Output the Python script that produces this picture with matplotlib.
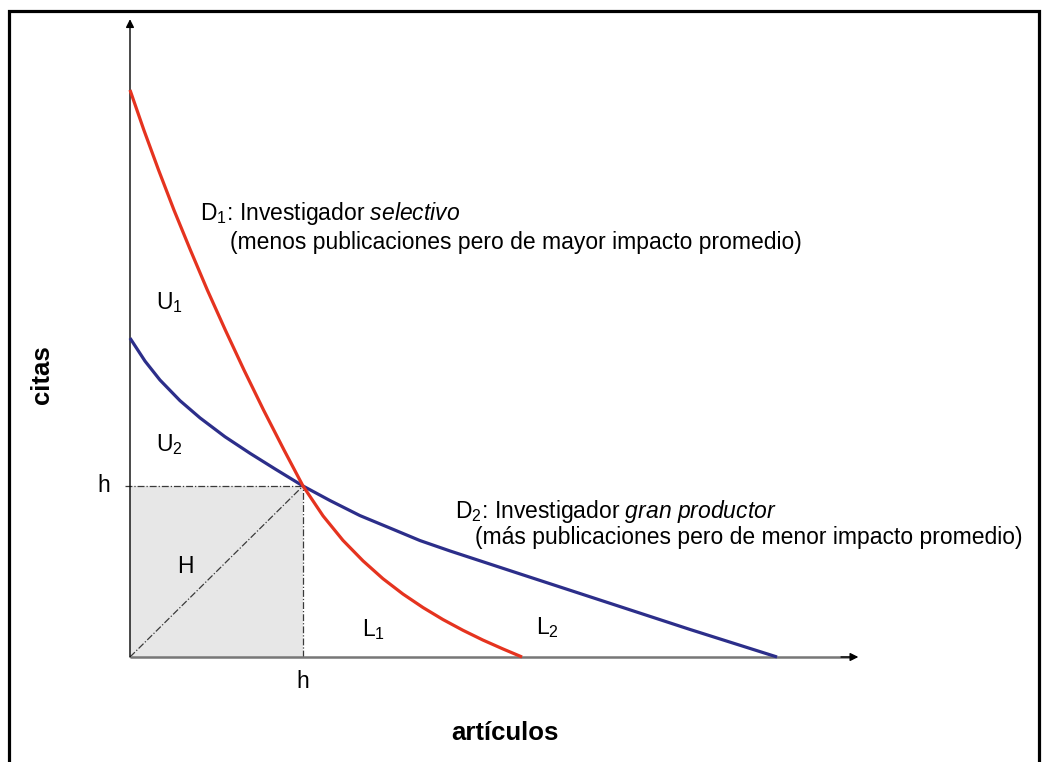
import matplotlib
matplotlib.use('Agg')
import matplotlib.pyplot as plt
from matplotlib.lines import Line2D

plt.rcParams['font.family'] = ['Liberation Sans', 'DejaVu Sans']
plt.rcParams['mathtext.fontset'] = 'custom'
plt.rcParams['mathtext.rm'] = 'Liberation Sans'
plt.rcParams['mathtext.it'] = 'Liberation Sans:italic'
plt.rcParams['mathtext.bf'] = 'Liberation Sans:bold'

# ---- data (units: h-index = 10) ----
h_index = 10.0
red_x = [0.0, 0.80, 1.65, 2.54, 3.49, 4.47, 5.51, 6.59, 7.72, 8.90, 10.0,
         11.16, 12.31, 13.47, 14.62, 15.78, 16.94, 18.09, 19.25, 20.40, 21.56, 22.66]
red_y = [33.16, 30.82, 28.48, 26.14, 23.80, 21.46, 19.12, 16.78, 14.44, 12.11, 10.0,
         8.25, 6.82, 5.62, 4.58, 3.68, 2.89, 2.19, 1.56, 0.99, 0.47, 0.0]
blue_x = [0.0, 0.87, 1.73, 2.89, 4.05, 5.49, 6.94, 8.38, 10.0,
          11.56, 13.29, 15.03, 16.76, 18.50, 22.54, 27.17, 32.37, 37.40]
blue_y = [18.65, 17.30, 16.20, 14.99, 13.98, 12.88, 11.91, 11.00, 10.0,
          9.15, 8.27, 7.54, 6.81, 6.20, 4.86, 3.33, 1.61, 0.0]
x_axis_end = 42.1
y_axis_end = 37.3

RED = '#e5331f'
BLUE = '#2c2e8a'
FS = 16.5
FSB = 18.5

fig = plt.figure(figsize=(10.44, 7.62), dpi=100)
ax = fig.add_axes([0, 0, 1, 1])
ax.set_xlim(-7.514, 52.83)
ax.set_ylim(-6.14, 38.42)
ax.axis('off')

# outer frame (open at the bottom)
l, r, t = 8.5 / 1044, 1038.5 / 1044, 1 - 11 / 762
fig.add_artist(Line2D([l, l, r, r], [-0.01, t, t, -0.01], transform=fig.transFigure,
                      color='black', lw=2.3, solid_joinstyle='miter'))

# shaded H square
ax.fill_between([0, h_index], [h_index, h_index], 0, color='#e7e7e7', lw=0, zorder=1)

# dash-dot guides
dd = dict(color='#3a3a3a', lw=0.9, ls=(0, (5.5, 1.6, 1.0, 1.6)), zorder=2)
ax.plot([-0.3, h_index], [h_index, h_index], **dd)
ax.plot([h_index, h_index], [0, h_index], **dd)
ax.plot([0, h_index], [0, h_index], **dd)

# axes with arrows
ax.plot([0, x_axis_end - 0.5], [0, 0], color='#777777', lw=1.8, zorder=3, solid_capstyle='butt')
ax.annotate('', xy=(x_axis_end, 0), xytext=(x_axis_end - 1.0, 0),
            arrowprops=dict(arrowstyle='-|>', color='black', lw=1.0, mutation_scale=12,
                            shrinkA=0, shrinkB=0), zorder=4)
ax.annotate('', xy=(0, y_axis_end), xytext=(0, 0),
            arrowprops=dict(arrowstyle='-|>', color='black', lw=1.0, mutation_scale=12,
                            shrinkA=0, shrinkB=0), zorder=4)

# curves
ax.plot(blue_x, blue_y, color=BLUE, lw=2.3, zorder=5, solid_capstyle='butt', solid_joinstyle='round')
ax.plot(red_x, red_y, color=RED, lw=2.3, zorder=6, solid_capstyle='butt', solid_joinstyle='round')

# labels
ax.text(1.50, 20.70, r'U$_1$', fontsize=FS, ha='left', va='center')
ax.text(1.50, 12.40, r'U$_2$', fontsize=FS, ha='left', va='center')
ax.text(3.18, 5.32, 'H', fontsize=FS, ha='center', va='center')
ax.text(13.41, 1.58, r'L$_1$', fontsize=FS, ha='left', va='center')
ax.text(23.47, 1.70, r'L$_2$', fontsize=FS, ha='left', va='center')
ax.text(-1.16, h_index, 'h', fontsize=FS, ha='right', va='center')
ax.text(h_index, -1.46, 'h', fontsize=FS, ha='center', va='center')

ax.text(4.05, 25.96, r'D$_1$: Investigador $\mathit{selectivo}$', fontsize=FS, ha='left', va='center')
ax.text(5.78, 24.21, '(menos publicaciones pero de mayor impacto promedio)', fontsize=FS,
        ha='left', va='center')
ax.text(18.79, 8.48, r'D$_2$: Investigador $\mathit{gran\ productor}$', fontsize=FS, ha='left', va='center')
ax.text(19.94, 6.96, '(más publicaciones pero de menor impacto promedio)', fontsize=FS,
        ha='left', va='center')

ax.text(-5.09, 16.49, 'citas', fontsize=FSB, fontweight='bold', rotation=90, ha='center', va='center')
ax.text(21.68, -4.44, 'artículos', fontsize=FSB, fontweight='bold', ha='center', va='center')

fig.savefig('out.png', dpi=100)
